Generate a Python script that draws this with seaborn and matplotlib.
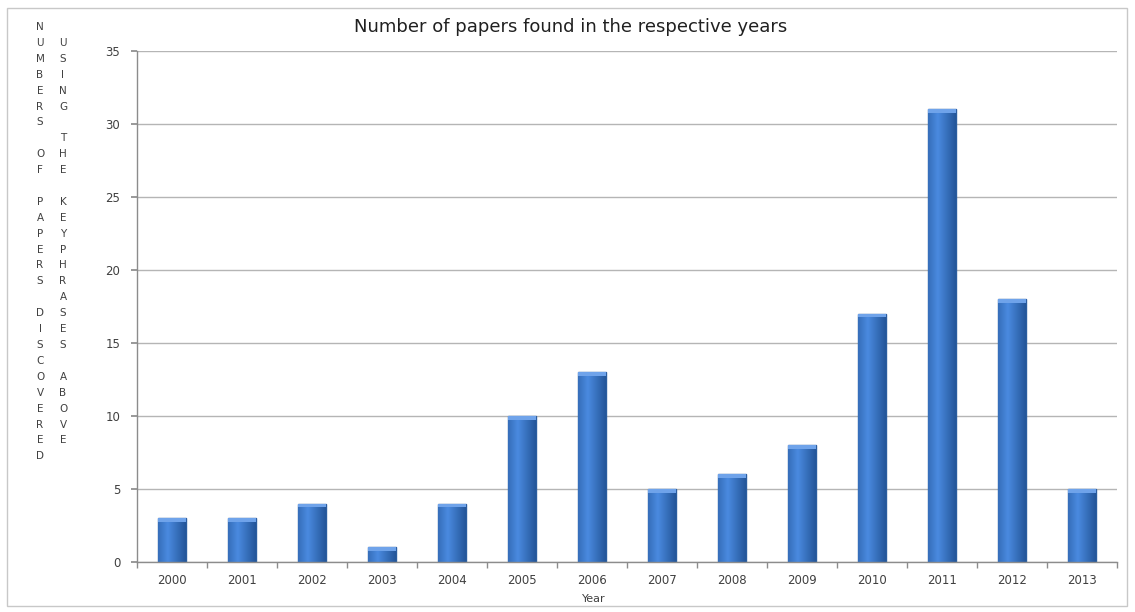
import matplotlib
matplotlib.use("Agg")
import matplotlib.pyplot as plt
import seaborn as sns
import pandas as pd
import numpy as np
from matplotlib.patches import Rectangle

years = ["2000", "2001", "2002", "2003", "2004", "2005", "2006",
         "2007", "2008", "2009", "2010", "2011", "2012", "2013"]
papers = [3, 3, 4, 1, 4, 10, 13, 5, 6, 8, 17, 31, 18, 5]
title = "Number of papers found in the respective years"
xlabel = "Year"
ylabel_col1 = "NUMBERS\n\nOF\n\nPAPERS\n\nDISCOVERED"
ylabel_col2 = "\nUSING\n\nTHE\n\nKEYPHRASES\n\nABOVE"
yticks = [0, 5, 10, 15, 20, 25, 30, 35]

sns.set_theme(style="white")
plt.rcParams['font.family'] = ['DejaVu Sans']

W, H = 1135, 612
fig = plt.figure(figsize=(W / 100, H / 100), dpi=100)
ax = fig.add_axes([137 / W, 1 - 562 / H, (1117 - 137) / W, (562 - 51) / H])

df = pd.DataFrame({"Year": years, "Papers": papers})
sns.barplot(data=df, x="Year", y="Papers", ax=ax, width=0.4,
            color="#3c7bd0", edgecolor="#2b5d9f", linewidth=1.0, saturation=1)

# gradient shading on bars
grad = np.linspace(0, 1, 64)
shade = 1 - 0.35 * np.abs(grad - 0.35) / 0.65
cmap = matplotlib.colors.LinearSegmentedColormap.from_list("b", ["#1f4f8f", "#4a8ae0"])
for p in ax.patches:
    x0, y0 = p.get_x(), p.get_y()
    w, h = p.get_width(), p.get_height()
    im = ax.imshow(shade[np.newaxis, :], extent=[x0, x0 + w, y0, y0 + h],
                   aspect="auto", cmap=cmap, vmin=0.6, vmax=1.0, zorder=p.get_zorder() + 0.1)
    im.set_clip_path(p)
    ax.add_patch(Rectangle((x0, y0 + h - 0.25), w, 0.25, facecolor="#6fa3ea",
                           edgecolor="none", zorder=p.get_zorder() + 0.2))

ax.set_xlim(-0.5, len(years) - 0.5)
ax.set_ylim(0, 35)
ax.set_yticks(yticks)
ax.yaxis.grid(True, color="#b5b5b5", linewidth=1.0)
ax.set_axisbelow(True)
for s in ["top", "right"]:
    ax.spines[s].set_visible(False)
for s in ["left", "bottom"]:
    ax.spines[s].set_color("#8c8c8c")
    ax.spines[s].set_linewidth(1.0)

ax.set_xticks(np.arange(-0.5, len(years), 1.0), minor=True)
ax.tick_params(axis="x", which="major", length=0, pad=9, labelsize=8.5, labelcolor="#404040")
ax.tick_params(axis="x", which="minor", length=4, color="#8c8c8c", direction="out", bottom=True)
ax.tick_params(axis="y", which="major", length=4, color="#8c8c8c", direction="out",
               left=True, pad=8, labelsize=8.5, labelcolor="#404040")
ax.set_xlabel("")
ax.set_ylabel("")

fig.text(594 / W, 1 - 599 / H, xlabel, ha="center", va="center", fontsize=8, color="#404040")
fig.text(571 / W, 1 - 27 / H, title, ha="center", va="center", fontsize=13, color="#202020")

lines1 = []
for word in ylabel_col1.split("\n"):
    lines1.extend(list(word) if word else [""])
lines2 = []
for word in ylabel_col2.split("\n"):
    lines2.extend(list(word) if word else [""])
for lines, xpx in [(lines1, 40), (lines2, 63)]:
    for i, ch in enumerate(lines):
        if ch:
            fig.text(xpx / W, 1 - (27 + i * 15.9) / H, ch, ha="center", va="center",
                     fontsize=7.5, color="#404040")

fig.patches.append(Rectangle((7 / W, 1 - 606 / H), (1127 - 7) / W, (606 - 8) / H,
                             transform=fig.transFigure, fill=False,
                             edgecolor="#c8c8c8", linewidth=1.0))

fig.savefig("out.png", dpi=100, facecolor="white")
